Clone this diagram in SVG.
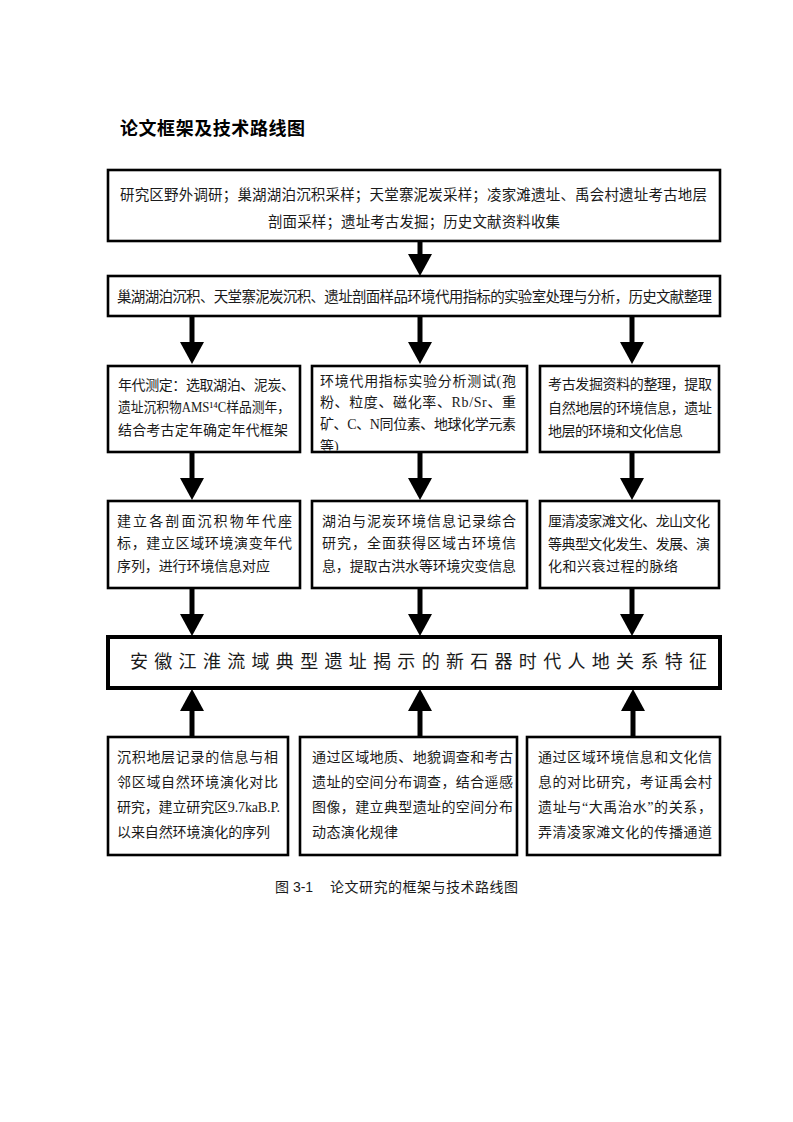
<svg xmlns="http://www.w3.org/2000/svg" width="793" height="1122" viewBox="0 0 793 1122">
<style>
.bg{fill:#ffffff}
.box{fill:#ffffff;stroke:#000000;stroke-width:2.6}
.main{fill:#ffffff;stroke:#000000;stroke-width:4}
.t{font-family:"Liberation Serif","Noto Sans CJK SC",serif;font-size:14px;fill:#1a1a1a}
.mt{font-family:"Liberation Serif","Noto Sans CJK SC",serif;font-size:18px;fill:#1a1a1a}
.title{font-family:"Liberation Sans","Noto Sans CJK SC",sans-serif;font-size:18px;font-weight:bold;fill:#000}
.cap{font-family:"Liberation Sans","Noto Sans CJK SC",sans-serif;font-size:14px;fill:#1a1a1a}
.arr{stroke:#000;stroke-width:5;fill:none}
</style>
<defs>
<marker id="ah" markerUnits="userSpaceOnUse" viewBox="0 0 22 24" refX="12" refY="12" markerWidth="22" markerHeight="24" orient="auto">
<path d="M0,0 L22,12 L0,24 Z" fill="#000"/>
</marker>
<clipPath id="c3b"><rect x="313.5" y="367.5" width="212" height="83"/></clipPath>
</defs>
<rect class="bg" x="0" y="0" width="793" height="1122"/>
<text class="title" x="120" y="135" textLength="185" lengthAdjust="spacing">论文框架及技术路线图</text>

<g id="connectors">
<line class="arr" x1="420" y1="242" x2="420" y2="266" marker-end="url(#ah)"/>
<line class="arr" x1="192" y1="317" x2="192" y2="354" marker-end="url(#ah)"/>
<line class="arr" x1="420" y1="317" x2="420" y2="354" marker-end="url(#ah)"/>
<line class="arr" x1="632" y1="317" x2="632" y2="354" marker-end="url(#ah)"/>
<line class="arr" x1="192" y1="453" x2="192" y2="490" marker-end="url(#ah)"/>
<line class="arr" x1="420" y1="453" x2="420" y2="490" marker-end="url(#ah)"/>
<line class="arr" x1="632" y1="453" x2="632" y2="490" marker-end="url(#ah)"/>
<line class="arr" x1="192" y1="589" x2="192" y2="626" marker-end="url(#ah)"/>
<line class="arr" x1="420" y1="589" x2="420" y2="626" marker-end="url(#ah)"/>
<line class="arr" x1="632" y1="589" x2="632" y2="626" marker-end="url(#ah)"/>
<line class="arr" x1="192" y1="736" x2="192" y2="699" marker-end="url(#ah)"/>
<line class="arr" x1="420" y1="736" x2="420" y2="699" marker-end="url(#ah)"/>
<line class="arr" x1="633" y1="736" x2="633" y2="699" marker-end="url(#ah)"/>
</g>

<g id="n1">
<rect class="box" x="108" y="170" width="612" height="71"/>
<text class="t" x="120" y="200" textLength="587" lengthAdjust="spacing" style="font-size:14.5px">研究区野外调研；巢湖湖泊沉积采样；天堂寨泥炭采样；凌家滩遗址、禹会村遗址考古地层</text>
<text class="t" x="268" y="227" textLength="292" lengthAdjust="spacing" style="font-size:14.5px">剖面采样；遗址考古发掘；历史文献资料收集</text>
</g>

<g id="n2">
<rect class="box" x="108" y="276" width="612" height="40"/>
<text class="t" x="117" y="302" textLength="595" lengthAdjust="spacing" style="font-size:14.5px">巢湖湖泊沉积、天堂寨泥炭沉积、遗址剖面样品环境代用指标的实验室处理与分析，历史文献整理</text>
</g>

<g id="n3a">
<rect class="box" x="108" y="366" width="192" height="86"/>
<text class="t" x="118" y="390" textLength="177" lengthAdjust="spacing">年代测定：选取湖泊、泥炭、</text>
<text class="t" x="118" y="412" textLength="172" lengthAdjust="spacingAndGlyphs">遗址沉积物AMS¹⁴C样品测年，</text>
<text class="t" x="118" y="435" textLength="170" lengthAdjust="spacing">结合考古定年确定年代框架</text>
</g>

<g id="n3b">
<rect class="box" x="312" y="366" width="215" height="86"/>
<g clip-path="url(#c3b)">
<text class="t" x="320" y="386" textLength="196" lengthAdjust="spacing">环境代用指标实验分析测试(孢</text>
<text class="t" x="320" y="407" textLength="196" lengthAdjust="spacing">粉、粒度、磁化率、Rb/Sr、重</text>
<text class="t" x="320" y="429" textLength="196" lengthAdjust="spacing">矿、C、N同位素、地球化学元素</text>
<text class="t" x="320" y="451">等)</text>
</g>
</g>

<g id="n3c">
<rect class="box" x="540" y="366" width="179" height="86"/>
<text class="t" x="548" y="389" textLength="164" lengthAdjust="spacing">考古发掘资料的整理，提取</text>
<text class="t" x="548" y="413" textLength="164" lengthAdjust="spacing">自然地层的环境信息，遗址</text>
<text class="t" x="548" y="436" textLength="135" lengthAdjust="spacing">地层的环境和文化信息</text>
</g>

<g id="n4a">
<rect class="box" x="108" y="501" width="192" height="87"/>
<text class="t" x="117" y="526" textLength="175" lengthAdjust="spacing">建立各剖面沉积物年代座</text>
<text class="t" x="117" y="548" textLength="175" lengthAdjust="spacing">标，建立区域环境演变年代</text>
<text class="t" x="117" y="571" textLength="153" lengthAdjust="spacing">序列，进行环境信息对应</text>
</g>

<g id="n4b">
<rect class="box" x="312" y="501" width="215" height="87"/>
<text class="t" x="322" y="526" textLength="194" lengthAdjust="spacing">湖泊与泥炭环境信息记录综合</text>
<text class="t" x="322" y="548" textLength="194" lengthAdjust="spacing">研究，全面获得区域古环境信</text>
<text class="t" x="322" y="571" textLength="194" lengthAdjust="spacing">息，提取古洪水等环境灾变信息</text>
</g>

<g id="n4c">
<rect class="box" x="540" y="501" width="179" height="87"/>
<text class="t" x="548" y="526" textLength="162" lengthAdjust="spacing">厘清凌家滩文化、龙山文化</text>
<text class="t" x="548" y="549" textLength="162" lengthAdjust="spacing">等典型文化发生、发展、演</text>
<text class="t" x="548" y="571" textLength="130" lengthAdjust="spacing">化和兴衰过程的脉络</text>
</g>

<g id="n5">
<rect class="main" x="108" y="637" width="612" height="51"/>
<text class="mt" x="130" y="668" textLength="577" lengthAdjust="spacing">安徽江淮流域典型遗址揭示的新石器时代人地关系特征</text>
</g>

<g id="n6a">
<rect class="box" x="108" y="737" width="180" height="118"/>
<text class="t" x="117" y="762" textLength="161" lengthAdjust="spacing">沉积地层记录的信息与相</text>
<text class="t" x="117" y="787" textLength="161" lengthAdjust="spacing">邻区域自然环境演化对比</text>
<text class="t" x="117" y="812" textLength="163" lengthAdjust="spacing">研究，建立研究区9.7kaB.P.</text>
<text class="t" x="117" y="837" textLength="153" lengthAdjust="spacing">以来自然环境演化的序列</text>
</g>

<g id="n6b">
<rect class="box" x="300" y="737" width="217" height="118"/>
<text class="t" x="312" y="762" textLength="201" lengthAdjust="spacing">通过区域地质、地貌调查和考古</text>
<text class="t" x="312" y="787" textLength="201" lengthAdjust="spacing">遗址的空间分布调查，结合遥感</text>
<text class="t" x="312" y="812" textLength="201" lengthAdjust="spacing">图像，建立典型遗址的空间分布</text>
<text class="t" x="312" y="837" textLength="86" lengthAdjust="spacing">动态演化规律</text>
</g>

<g id="n6c">
<rect class="box" x="527" y="737" width="193" height="118"/>
<text class="t" x="538" y="762" textLength="174" lengthAdjust="spacing">通过区域环境信息和文化信</text>
<text class="t" x="538" y="787" textLength="174" lengthAdjust="spacing">息的对比研究，考证禹会村</text>
<text class="t" x="538" y="812" textLength="174" lengthAdjust="spacing">遗址与“大禹治水”的关系，</text>
<text class="t" x="538" y="837" textLength="174" lengthAdjust="spacing">弄清凌家滩文化的传播通道</text>
</g>

<text class="cap" x="275" y="892">图 3-1</text>
<text class="cap" x="330" y="892" textLength="188" lengthAdjust="spacing">论文研究的框架与技术路线图</text>
</svg>
